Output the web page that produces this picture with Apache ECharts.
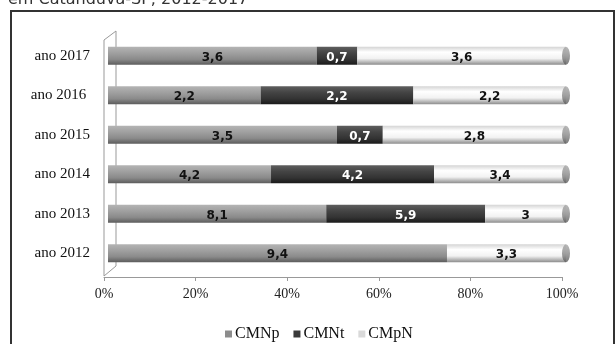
<!DOCTYPE html>
<html lang="pt">
<head>
    <meta charset="UTF-8">
    <title>CMNp / CMNt / CMpN</title>
    <script src="https://cdn.jsdelivr.net/npm/echarts@6.0.0/dist/echarts.min.js"></script>
    <style>
        html, body { margin: 0; padding: 0; background: #fff; }
        #chart { width: 616px; height: 344px; }
    </style>
</head>
<body>
<div id="chart"></div>
<script type="text/javascript">
    // dados (valores brutos)
    var anos = ['ano 2012', 'ano 2013', 'ano 2014', 'ano 2015', 'ano 2016 ', 'ano 2017'];
    var cmnp = [9.4, 8.1, 4.2, 3.5, 2.2, 3.6];
    var cmnt = [0, 5.9, 4.2, 0.7, 2.2, 0.7];
    var cmpn = [3.3, 3, 3.4, 2.8, 2.2, 3.6];
    var xTicks = ['0%', '20%', '40%', '60%', '80%', '100%'];

    var nomes = ['CMNp', 'CMNt', 'CMpN'];
    var brutos = [cmnp, cmnt, cmpn];

    // percentuais para a barra 100% empilhada
    function pct(serie) {
        return serie.map(function (v, i) {
            var tot = cmnp[i] + cmnt[i] + cmpn[i];
            return v / tot * 100;
        });
    }

    function grad(stops) {
        return new echarts.graphic.LinearGradient(0, 0, 0, 1, stops.map(function (s) {
            return { offset: s[0], color: s[1] };
        }));
    }

    var cores = [
        grad([[0, '#b4b4b4'], [0.35, '#a0a0a0'], [0.7, '#8a8a8a'], [1, '#5c5c5c']]),
        grad([[0, '#5e5e5e'], [0.35, '#444444'], [0.7, '#333333'], [1, '#1a1a1a']]),
        grad([[0, '#d4d4d4'], [0.3, '#ffffff'], [0.65, '#f2f2f2'], [1, '#8c8c8c']])
    ];
    var coresLegenda = ['#8c8c8c', '#3a3a3a', '#d9d9d9'];
    var corTexto = ['#111', '#fff', '#111'];

    var series = nomes.map(function (n, k) {
        return {
            name: n,
            type: 'bar',
            stack: 'total',
            barWidth: 18,
            xAxisIndex: 0,
            yAxisIndex: 0,
            data: pct(brutos[k]),
            itemStyle: { color: cores[k] },
            label: {
                show: true,
                position: 'inside',
                offset: [0, 2],
                color: corTexto[k],
                fontFamily: 'DejaVu Sans',
                fontWeight: 'bold',
                fontSize: 12,
                formatter: function (p) {
                    var v = brutos[k][p.dataIndex];
                    return v ? String(v).replace('.', ',') : '';
                }
            }
        };
    });

    // tampa do cilindro no fim de cada barra
    series.push({
        name: 'tampa',
        type: 'scatter',
        xAxisIndex: 0,
        yAxisIndex: 0,
        symbol: 'circle',
        symbolSize: [8, 18],
        z: 5,
        silent: true,
        data: anos.map(function (a) { return [100, a]; }),
        itemStyle: { color: grad([[0, '#a8a8a8'], [0.5, '#8a8a8a'], [1, '#5a5a5a']]) }
    });

    var dom = document.getElementById('chart');
    var myChart = echarts.init(dom, null, { renderer: 'canvas' });

    var option = {
        animation: false,
        backgroundColor: '#fff',
        legend: {
            left: 220,
            top: 321,
            itemWidth: 7,
            itemHeight: 7,
            itemGap: 14,
            icon: 'rect',
            textStyle: { fontFamily: 'Liberation Serif', fontSize: 16, color: '#111', padding: [0, 0, 0, -2] },
            data: nomes.map(function (n, k) {
                return { name: n, itemStyle: { color: coresLegenda[k] } };
            })
        },
        grid: [
            { left: 108, width: 458, top: 36, height: 237 },
            { left: 104, width: 458, top: 276, height: 1 }
        ],
        xAxis: [
            { gridIndex: 0, type: 'value', min: 0, max: 100, show: false },
            {
                gridIndex: 1, type: 'value', min: 0, max: 100, interval: 20,
                axisLine: { show: true, lineStyle: { color: '#999', width: 1 } },
                axisTick: { show: true, length: 4, lineStyle: { color: '#999' } },
                splitLine: { show: false },
                axisLabel: {
                    margin: 10,
                    fontFamily: 'Liberation Serif', fontSize: 14, color: '#222',
                    formatter: function (v) { return xTicks[v / 20]; }
                }
            }
        ],
        yAxis: [
            {
                gridIndex: 0, type: 'category', data: anos,
                axisLine: { show: false },
                axisTick: { show: false },
                axisLabel: { margin: 18, fontFamily: 'Liberation Serif', fontSize: 15, color: '#111' }
            },
            { gridIndex: 1, type: 'value', show: false }
        ],
        graphic: [
            {
                type: 'text',
                left: 8,
                top: -8,
                style: { text: 'em Catanduva-SP, 2012-2017', font: '16px "DejaVu Sans"', fill: '#333' }
            },
            {
                type: 'rect',
                shape: { x: 11, y: 11, width: 603, height: 345 },
                style: { fill: 'none', stroke: '#333', lineWidth: 2 }
            },
            {
                type: 'polyline',
                shape: { points: [[104, 276], [104, 40], [116, 31], [116, 266], [104, 276]] },
                style: { fill: 'none', stroke: '#999', lineWidth: 1 }
            }
        ],
        series: series
    };

    myChart.setOption(option, true);
</script>
</body>
</html>
